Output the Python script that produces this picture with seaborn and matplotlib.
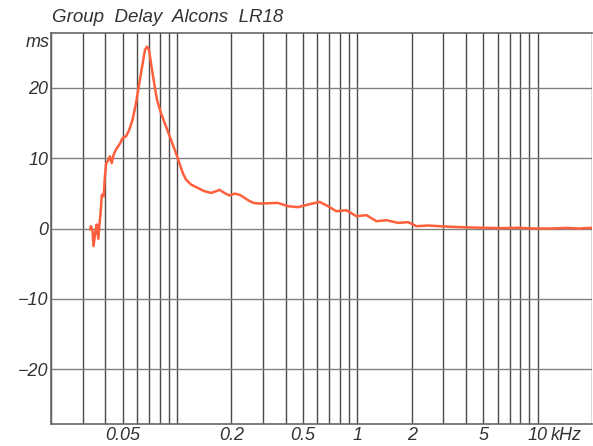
import matplotlib

# non-interactive backend, no display in the sandbox
matplotlib.use("Agg")
import matplotlib.pyplot as plt
import matplotlib.transforms as mtransforms
import seaborn as sns
import pandas as pd

# group delay curve (Hz, ms)
freq_hz = [33.0, 33.3, 34.0, 34.4, 35.2, 35.8, 36.6, 37.2, 37.8, 38.3, 39.2, 39.8,
           40.5, 41.2, 42.4, 43.4, 44.5, 45.8, 47.2, 48.4, 49.9, 52.1, 54.3, 56.7,
           59.2, 61.8, 64.5, 66.4, 68.1, 69.9, 71.7, 74.2, 77.4, 81.5, 86.9, 92.6,
           98.7, 103, 107.5, 112.2, 119.7, 130.2, 141.8, 154.5, 164.7, 171.9, 183,
           195, 208, 222, 237, 252, 269, 293, 330, 362, 412, 468, 532, 618, 687,
           764, 869, 987, 1122, 1275, 1449, 1682, 1912, 2127, 2470, 3330, 4200,
           5100, 6300, 7800, 9500, 11960, 14500, 17000, 20000]
delay_ms = [-0.14, 0.33, -0.38, -2.5, -0.61, 0.57, -1.46, 0.8, 2.7, 4.8, 4.6, 7.4,
            9.3, 9.55, 10.26, 9.3, 10.5, 11.2, 11.7, 12.15, 12.86, 13.1, 14.0, 15.5,
            17.8, 20.7, 23.5, 25.4, 25.86, 25.4, 23.5, 21.1, 18.3, 16.4, 14.5, 12.6,
            10.7, 9.3, 7.9, 6.95, 6.24, 5.77, 5.3, 5.06, 5.3, 5.5, 5.06,
            4.7, 4.96, 4.8, 4.35, 3.9, 3.6, 3.55, 3.6, 3.64, 3.17, 3.03, 3.4, 3.78, 3.17,
            2.46, 2.6, 1.75, 1.9, 1.04, 1.18, 0.8, 0.9, 0.33, 0.42, 0.24, 0.15,
            0.1, 0.05, 0.1, 0.0, 0.0, 0.08, 0.0, 0.1]

x_ticks = [50, 200, 500, 1000, 2000, 5000, 10000]
x_ticklabels = ["0.05", "0.2", "0.5", "1", "2", "5", "10"]
y_ticks = [-20, -10, 0, 10, 20]
y_ticklabels = ["\u221220", "\u221210", "0", "10", "20"]
grid_freqs = [m * 10 ** e for e in range(1, 5) for m in range(1, 10)]
grid_freqs = [f for f in grid_freqs if 20 <= f <= 20000]

df = pd.DataFrame({"freq": freq_hz, "delay": delay_ms})

sns.set_theme(style="white")
plt.rcParams["font.family"] = ["Liberation Sans", "DejaVu Sans"]

fig = plt.figure(figsize=(5.93, 4.46), dpi=100)
ax = fig.add_axes([51 / 593, 22 / 446, 541 / 593, 391 / 446])

for f in grid_freqs:
    ax.axvline(f, color="#4a4a4a", lw=1.0, zorder=1)
for v in y_ticks:
    ax.axhline(v, color="#808080", lw=1.0, zorder=1)

sns.lineplot(data=df, x="freq", y="delay", ax=ax, color="#ff5f3c", lw=1.8, zorder=3)

ax.set_xscale("log")
ax.set_xlim(20, 20000)
ax.set_ylim(-27.8, 27.8)
ax.set_xticks(x_ticks)
ax.set_xticklabels(x_ticklabels)
ax.minorticks_off()
ax.set_yticks(y_ticks)
ax.set_yticklabels(y_ticklabels)
ax.tick_params(length=0, pad=2, labelsize=13, labelcolor="#333333")
for lbl in ax.get_xticklabels() + ax.get_yticklabels():
    lbl.set_style("italic")
ax.set_xlabel("")
ax.set_ylabel("")

for side in ["left", "bottom", "top"]:
    ax.spines[side].set_color("#666666")
    ax.spines[side].set_linewidth(1.2)
ax.spines["right"].set_visible(False)

# unit labels
trans = mtransforms.blended_transform_factory(ax.transData, ax.transAxes)
ax.annotate("kHz", xy=(10000, 0), xycoords=trans, xytext=(9, -2),
            textcoords="offset points", ha="left", va="top",
            fontsize=13, style="italic", color="#333333")
ax.text(-0.003, 26.4, "ms", transform=mtransforms.blended_transform_factory(ax.transAxes, ax.transData),
        ha="right", va="center", fontsize=13, style="italic", color="#333333")

fig.text(52 / 593, 1 - 17 / 446, "Group  Delay  Alcons  LR18", ha="left", va="center",
         fontsize=13.5, style="italic", color="#333333")

fig.savefig("out.png", dpi=100)
plt.close(fig)
